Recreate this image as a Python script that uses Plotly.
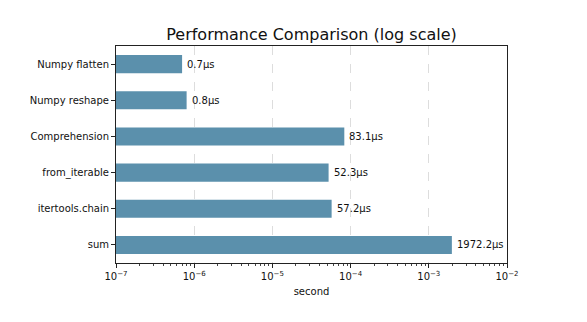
import math
import plotly.graph_objects as go

# Timings of different list-flattening approaches (microseconds)
methods = ["Numpy flatten", "Numpy reshape", "Comprehension",
           "from_iterable", "itertools.chain", "sum"]
times_us = [0.7, 0.8, 83.1, 52.3, 57.2, 1972.2]

times_s = [t * 1e-6 for t in times_us]
labels = [f"{t:.1f}µs" for t in times_us]

exps = [-7, -6, -5, -4, -3, -2]
tick_vals = [10.0 ** e for e in exps]
tick_text = [f"10<sup>−{-e}</sup>" for e in exps]

font = "DejaVu Sans, Verdana, sans-serif"

fig = go.Figure(
    go.Bar(
        x=times_s,
        y=methods,
        orientation="h",
        width=0.5,
        marker=dict(color="rgb(91,144,172)", line=dict(width=0)),
        hoverinfo="x+y",
    )
)

# value labels just past the end of each bar
for m, s, lab in zip(methods, times_s, labels):
    fig.add_annotation(
        x=math.log10(s),
        y=m,
        text=lab,
        showarrow=False,
        xanchor="left",
        yanchor="middle",
        xshift=3,
        font=dict(size=10, color="#111111", family=font),
    )

fig.update_layout(
    width=587,
    height=322,
    margin=dict(l=116, r=80, t=46, b=59),
    paper_bgcolor="white",
    plot_bgcolor="white",
    font=dict(family=font, size=10, color="#111111"),
    title=dict(
        text="Performance Comparison (log scale)",
        x=311.5 / 587,
        xanchor="center",
        y=1 - 34 / 322,
        yanchor="middle",
        font=dict(size=16, color="#111111", family=font),
    ),
    showlegend=False,
    bargap=0.5,
)

fig.update_xaxes(
    type="log",
    range=[-7, -2],
    tickvals=tick_vals,
    ticktext=tick_text,
    ticks="outside",
    ticklen=4,
    tickwidth=1,
    tickcolor="#222222",
    showgrid=True,
    gridcolor="#dddddd",
    griddash="dash",
    gridwidth=1,
    showline=True,
    linecolor="#222222",
    linewidth=1,
    mirror=True,
    zeroline=False,
    minor=dict(ticks="outside", ticklen=2, tickcolor="#444444", dtick="D1", showgrid=False),
    title=dict(text="second", font=dict(size=10, family=font), standoff=6),
    tickfont=dict(size=10, family=font),
)

fig.update_yaxes(
    categoryorder="array",
    categoryarray=methods,
    autorange="reversed",
    ticks="outside",
    ticklen=4,
    tickcolor="#222222",
    showgrid=False,
    showline=True,
    linecolor="#222222",
    linewidth=1,
    mirror=True,
    tickfont=dict(size=10, family=font),
)

fig.write_html("out.html")
